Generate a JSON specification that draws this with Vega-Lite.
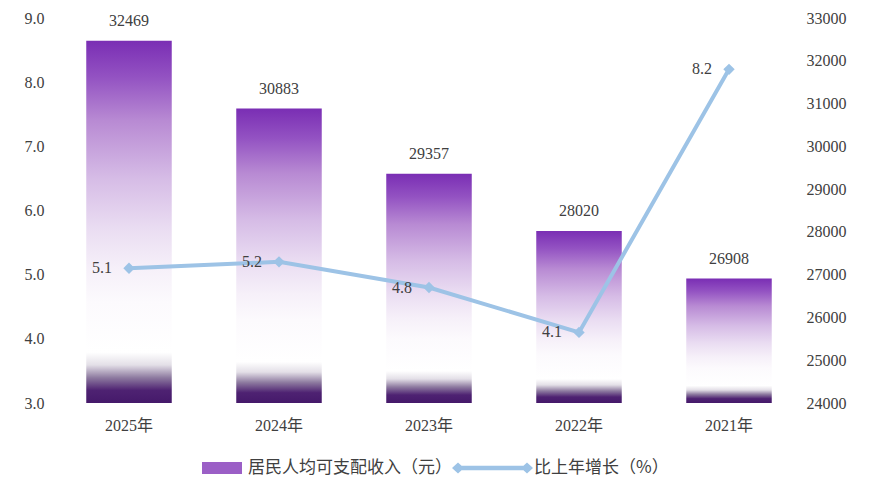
{
  "$schema": "https://vega.github.io/schema/vega-lite/v6.json",
  "width": 750,
  "height": 385,
  "padding": {"left": 24, "top": 10, "right": 5, "bottom": 5},
  "background": "white",
  "data": {
    "values": [
      {"year": "2021年", "income": 26908, "growth": 8.2},
      {"year": "2022年", "income": 28020, "growth": 4.1},
      {"year": "2023年", "income": 29357, "growth": 4.8},
      {"year": "2024年", "income": 30883, "growth": 5.2},
      {"year": "2025年", "income": 32469, "growth": 5.1}
    ]
  },
  "encoding": {
    "x": {
      "field": "year",
      "type": "nominal",
      "sort": ["2025年", "2024年", "2023年", "2022年", "2021年"],
      "title": null,
      "scale": {"paddingInner": 0.43, "paddingOuter": 0.215},
      "axis": {
        "labelAngle": 0,
        "labelPadding": 14,
        "domain": false,
        "ticks": false,
        "labelFont": "Liberation Serif, Noto Sans CJK SC",
        "labelFontSize": 16,
        "labelColor": "#404040"
      }
    }
  },
  "layer": [
    {
      "mark": {
        "type": "bar",
        "fill": {
          "gradient": "linear",
          "x1": 0, "y1": 0, "x2": 0, "y2": 1,
          "stops": [
            {"offset": 0, "color": "#7A2EB4"},
            {"offset": 0.1, "color": "#9352C2"},
            {"offset": 0.22, "color": "#B88AD3"},
            {"offset": 0.38, "color": "#D6BCE6"},
            {"offset": 0.52, "color": "#EADDF2"},
            {"offset": 0.63, "color": "#F6F0F9"},
            {"offset": 0.72, "color": "#FCFAFD"},
            {"offset": 0.86, "color": "#FFFFFF"},
            {"offset": 0.895, "color": "#E3DFE7"},
            {"offset": 0.93, "color": "#8E7BA0"},
            {"offset": 0.965, "color": "#4E2272"},
            {"offset": 1, "color": "#45196A"}
          ]
        }
      },
      "encoding": {
        "y": {
          "field": "income",
          "type": "quantitative",
          "title": null,
          "scale": {"domain": [24000, 33000], "nice": false, "zero": false},
          "axis": {
            "orient": "right",
            "values": [24000, 25000, 26000, 27000, 28000, 29000, 30000, 31000, 32000, 33000],
            "format": "d",
            "labelPadding": 2
          }
        },
        "y2": {"datum": 24000}
      }
    },
    {
      "mark": {
        "type": "text",
        "baseline": "bottom",
        "dy": -12,
        "font": "Liberation Serif",
        "fontSize": 16,
        "color": "#404040"
      },
      "encoding": {
        "y": {"field": "income", "type": "quantitative", "scale": {"domain": [24000, 33000], "nice": false, "zero": false}, "axis": null},
        "text": {"field": "income", "type": "quantitative", "format": "d"}
      }
    },
    {
      "mark": {
        "type": "line",
        "strokeWidth": 4,
        "point": {"shape": "diamond", "size": 130, "filled": true, "opacity": 1}
      },
      "encoding": {
        "y": {
          "field": "growth",
          "type": "quantitative",
          "title": null,
          "scale": {"domain": [3, 9], "nice": false, "zero": false},
          "axis": {
            "orient": "left",
            "values": [3, 4, 5, 6, 7, 8, 9],
            "format": ".1f",
            "labelPadding": 10
          }
        },
        "color": {
          "datum": "比上年增长（%）",
          "type": "nominal",
          "scale": {
            "domain": ["居民人均可支配收入（元）", "比上年增长（%）"],
            "range": ["#9B5FC6", "#9DC3E6"]
          },
          "legend": {
            "title": null,
            "orient": "none",
            "legendX": 112,
            "legendY": 440,
            "direction": "horizontal",
            "symbolSize": 400,
            "labelOffset": 62,
            "labelFont": "Noto Sans CJK SC",
            "labelFontSize": 17,
            "labelColor": "#404040",
            "labelLimit": 300,
            "columnPadding": 0,
            "encode": {
              "symbols": {
                "update": {
                  "shape": {"signal": "datum.value == '比上年增长（%）' ? 'M-1,0L-0.4,-0.55L0.2,0L-0.4,0.55ZM5.9,0L6.5,-0.55L7.1,0L6.5,0.55ZM-0.4,-0.22H6.5V0.22H-0.4Z' : 'M2.6,-0.6H6.6V0.6H2.6Z'"},
                  "fill": {"signal": "datum.value == '比上年增长（%）' ? '#9DC3E6' : {gradient: 'linear', x1: 0, y1: 0, x2: 0, y2: 1, stops: [{offset: 0, color: '#7A2EB4'}, {offset: 0.5, color: '#D9BFE6'}, {offset: 0.8, color: '#FFFFFF'}, {offset: 1, color: '#B9A6C9'}]}"},
                  "stroke": {"value": "transparent"},
                  "strokeWidth": {"value": 0},
                  "opacity": {"value": 1}
                }
              }
            }
          }
        }
      }
    },
    {
      "mark": {
        "type": "text",
        "align": "right",
        "baseline": "middle",
        "dx": -17,
        "font": "Liberation Serif",
        "fontSize": 16,
        "color": "#404040"
      },
      "encoding": {
        "y": {"field": "growth", "type": "quantitative", "scale": {"domain": [3, 9], "nice": false, "zero": false}, "axis": null},
        "text": {"field": "growth", "type": "quantitative", "format": ".1f"}
      }
    }
  ],
  "resolve": {"scale": {"y": "independent"}},
  "config": {
    "view": {"stroke": null},
    "axis": {
      "domain": false,
      "ticks": false,
      "grid": false,
      "labelFont": "Liberation Serif",
      "labelFontSize": 16,
      "labelColor": "#404040"
    }
  }
}
